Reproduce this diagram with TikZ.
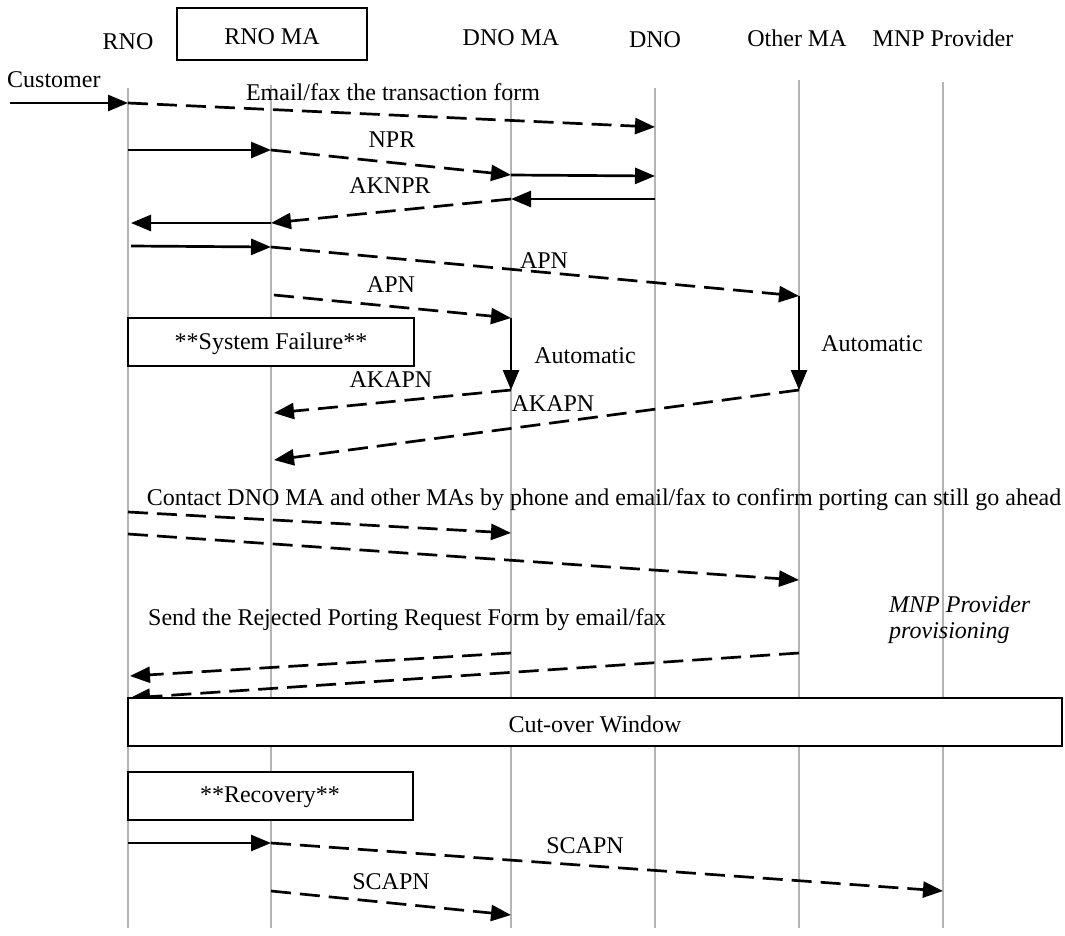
\documentclass[tikz,border=0pt]{standalone}
\usepackage{fontspec}
\setmainfont{Liberation Serif}
\usetikzlibrary{arrows.meta}
\begin{document}
\begin{tikzpicture}[x=1pt,y=-1pt,
  life/.style={draw={rgb,255:red,180;green,180;blue,180}, line width=2pt},
  msg/.style={line width=2.7pt, -{Triangle[length=20pt,width=16pt]}},
  dmsg/.style={msg, dash pattern=on 20pt off 9pt},
  vmsg/.style={msg},
  txt/.style={inner sep=0pt, font=\fontsize{24}{28}\selectfont},
  hdr/.style={txt},
  fbox/.style={draw, line width=1.4pt, fill=white, inner sep=0pt}
]
\useasboundingbox (0,0) rectangle (1065,935);

% lifelines
\coordinate (rnoT) at (128,88);   \coordinate (rnoB) at (128,928);
\coordinate (rmaT) at (271,85);   \coordinate (rmaB) at (271,928);
\coordinate (dmaT) at (511,88);   \coordinate (dmaB) at (511,928);
\coordinate (dnoT) at (655,88);   \coordinate (dnoB) at (655,928);
\coordinate (omaT) at (799,80);   \coordinate (omaB) at (799,928);
\coordinate (mnpT) at (943,82);   \coordinate (mnpB) at (943,928);
\draw[life] (rnoT) -- (rnoB);
\draw[life] (rmaT) -- (rmaB);
\draw[life] (dmaT) -- (dmaB);
\draw[life] (dnoT) -- (dnoB);
\draw[life] (omaT) -- (omaB);
\draw[life] (mnpT) -- (mnpB);

% headers
\node[hdr] (hRNO) at (128,42) {RNO};
\node[draw, line width=1.8pt, minimum width=190pt, minimum height=52pt, inner sep=0pt] (hRMAbox) at (272,34) {};
\node[hdr] (hRMA) at (272,37) {RNO MA};
\node[hdr] (hDMA) at (511,38) {DNO MA};
\node[hdr] (hDNO) at (655,40) {DNO};
\node[hdr] (hOMA) at (797,38) {Other MA};
\node[hdr] (hMNP) at (943,38) {MNP Provider};

% customer
\node[txt, anchor=west] (cust) at (7,80) {Customer};
\coordinate (c0) at (10,103);
\coordinate (c1) at (128,103);
\draw[msg] (c0) -- (c1);
\coordinate (e1) at (655,127);
\draw[dmsg] (c1) -- (e1);
\node[txt] (lEmail) at (393,92) {Email/fax the transaction form};

% NPR
\coordinate (n0) at (128,150);
\coordinate (n1) at (271,150);
\coordinate (n2) at (511,175);
\coordinate (n3) at (655,176);
\draw[msg] (n0) -- (n1);
\draw[dmsg] (n1) -- (n2);
\draw[msg] (n2) -- (n3);
\node[txt] (lNPR) at (392,140) {NPR};

% AKNPR
\coordinate (a0) at (655,199);
\coordinate (a1) at (511,199);
\coordinate (a2) at (271,223);
\coordinate (a3) at (131,223);
\draw[msg] (a0) -- (a1);
\draw[dmsg] (a1) -- (a2);
\draw[msg] (a2) -- (a3);
\node[txt] (lAKNPR) at (390,186) {AKNPR};

% APN
\coordinate (p0) at (131,246);
\coordinate (p1) at (271,247);
\coordinate (p2) at (799,296);
\draw[msg] (p0) -- (p1);
\draw[dmsg] (p1) -- (p2);
\node[txt] (lAPN1) at (544,261) {APN};
\coordinate (q1) at (274,295);
\coordinate (q2) at (511,318);
\draw[dmsg] (q1) -- (q2);
\node[txt] (lAPN2) at (391,285) {APN};

% system failure
\node[fbox, minimum width=286pt, minimum height=48pt] (sysf) at (271,342) {};
\node[txt] (sysfT) at (271,344) {**System Failure**};

% automatic
\coordinate (u1) at (511,390);
\coordinate (u2) at (799,390);
\draw[vmsg] (q2) -- (u1);
\draw[vmsg] (p2) -- (u2);
\node[txt] (lAuto1) at (585,356) {Automatic};
\node[txt] (lAuto2) at (872,344) {Automatic};

% AKAPN
\coordinate (k1) at (274,413);
\coordinate (k2) at (274,460);
\draw[dmsg] (u1) -- (k1);
\draw[dmsg] (u2) -- (k2);
\node[txt] (lAK1) at (391,380) {AKAPN};
\node[txt] (lAK2) at (553,404) {AKAPN};

% contact
\node[txt] (lContact) at (604,500) {Contact DNO MA and other MAs by phone and email/fax to confirm porting can still go ahead};
\coordinate (t0) at (128,512);
\coordinate (t1) at (511,533);
\coordinate (t2) at (128,534);
\coordinate (t3) at (799,580);
\draw[dmsg] (t0) -- (t1);
\draw[dmsg] (t2) -- (t3);

% rejected
\node[txt, anchor=west] (lSend) at (148,620) {Send the Rejected Porting Request Form by email/fax};
\node[txt, anchor=west, align=left, font=\fontsize{24}{26}\itshape] (lProv) at (889,620) {MNP Provider\\provisioning};
\coordinate (r0) at (511,653);
\coordinate (r1) at (130,676);
\coordinate (r2) at (799,653);
\coordinate (r3) at (130,698);
\draw[dmsg] (r0) -- (r1);
\draw[dmsg] (r2) -- (r3);

% cut-over
\node[fbox, minimum width=934pt, minimum height=48pt] (cut) at (595,722) {};
\node[txt] (cutT) at (595,724) {Cut-over Window};

% recovery
\node[fbox, minimum width=285pt, minimum height=48pt] (rec) at (270.5,796) {};
\node[txt] (recT) at (270,797) {**Recovery**};

% SCAPN
\coordinate (s0) at (128,843);
\coordinate (s1) at (271,843);
\coordinate (s2) at (943,891);
\draw[msg] (s0) -- (s1);
\draw[dmsg] (s1) -- (s2);
\node[txt] (lSC1) at (585,846) {SCAPN};
\coordinate (s3) at (271,891);
\coordinate (s4) at (511,915);
\draw[dmsg] (s3) -- (s4);
\node[txt] (lSC2) at (391,882) {SCAPN};
\end{tikzpicture}
\end{document}
